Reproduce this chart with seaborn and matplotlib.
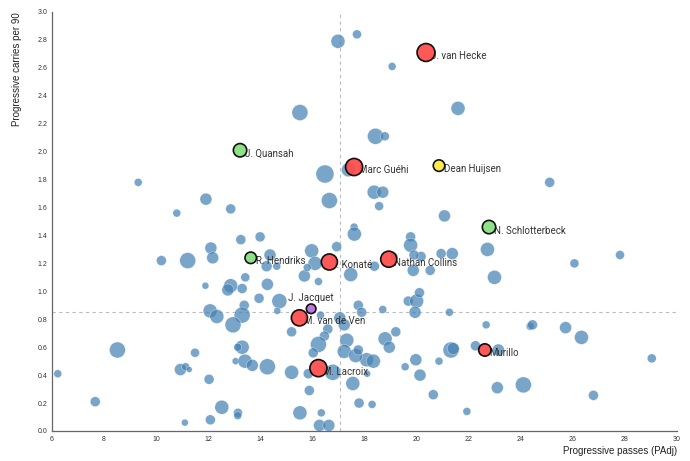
import pandas as pd
import seaborn as sns
import matplotlib.pyplot as plt

# all centre backs - progressive passes (PAdj) vs progressive carries per 90, bubble = minutes
pass_x = [16.98, 17.71, 19.06, 15.52, 21.59, 18.42, 18.78, 17.38, 16.48, 18.37,
          18.70, 16.65, 18.56, 11.91, 12.86, 21.07, 17.60, 17.61, 13.25, 13.99,
          12.10, 15.97, 16.93, 19.77, 19.77, 9.31, 10.79, 12.17, 10.20, 11.21,
          14.37, 14.24, 14.63, 13.42, 11.89, 12.86, 12.75, 13.30, 14.27, 13.95,
          14.73, 13.38, 12.07, 12.33, 13.30, 14.65, 12.95, 8.51, 11.49, 13.30,
          13.13, 13.05, 13.41, 13.69, 14.27, 10.93, 11.13, 11.27, 6.22, 12.03,
          7.66, 12.52, 13.14, 13.13, 12.08, 11.10, 16.10, 17.47, 18.38, 19.87,
          20.52, 20.94, 21.37, 20.17, 15.69, 16.23, 17.76, 17.89, 18.70, 19.68,
          20.00, 20.11, 19.94, 21.26, 15.20, 16.31, 16.59, 16.46, 17.05, 17.32,
          16.23, 16.03, 15.20, 15.84, 17.55, 18.08, 18.34, 18.79, 18.95, 19.20,
          19.56, 19.97, 20.13, 21.32, 21.41, 20.86, 17.22, 17.22, 17.66, 18.10,
          17.76, 16.78, 15.88, 15.52, 16.34, 16.27, 16.63, 17.79, 18.29, 20.64,
          21.93, 22.26, 23.14, 23.10, 24.10, 22.72, 22.99, 26.06, 27.81, 22.67,
          24.36, 24.45, 25.72, 26.33, 29.03, 26.79, 25.11, 19.13, 19.90, 15.80]
carry_y = [2.79, 2.84, 2.61, 2.28, 2.31, 2.11, 2.11, 1.87, 1.84, 1.71,
           1.71, 1.65, 1.61, 1.66, 1.59, 1.54, 1.46, 1.41, 1.37, 1.39,
           1.31, 1.29, 1.32, 1.39, 1.33, 1.78, 1.56, 1.24, 1.22, 1.22,
           1.26, 1.18, 1.18, 1.10, 1.04, 1.04, 1.01, 1.02, 1.05, 0.95,
           0.93, 0.90, 0.86, 0.82, 0.83, 0.86, 0.76, 0.58, 0.56, 0.60,
           0.60, 0.50, 0.50, 0.47, 0.46, 0.44, 0.46, 0.44, 0.41, 0.37,
           0.21, 0.17, 0.13, 0.11, 0.08, 0.06, 1.20, 1.12, 1.18, 1.15,
           1.15, 1.27, 1.27, 1.25, 1.11, 1.07, 0.90, 0.85, 0.87, 0.93,
           0.93, 0.99, 0.85, 0.85, 0.71, 0.83, 0.73, 0.68, 0.81, 0.65,
           0.62, 0.56, 0.42, 0.41, 0.34, 0.51, 0.50, 0.66, 0.60, 0.71,
           0.46, 0.51, 0.40, 0.58, 0.59, 0.50, 0.76, 0.57, 0.54, 0.41,
           0.58, 0.42, 0.29, 0.13, 0.13, 0.04, 0.04, 0.20, 0.19, 0.26,
           0.14, 0.61, 0.58, 0.31, 0.33, 1.30, 1.10, 1.20, 1.26, 0.76,
           0.75, 0.76, 0.74, 0.67, 0.52, 0.255, 1.78, 1.25, 1.26, 1.17]
minutes = [1470, 610, 480, 1920, 1470, 1920, 610, 1470, 2430, 1470,
           1080, 1920, 610, 1080, 750, 1080, 480, 1470, 750, 750,
           1080, 1470, 750, 750, 1470, 480, 480, 1080, 750, 1920,
           1080, 900, 480, 610, 370, 1470, 1080, 750, 1080, 750,
           1690, 750, 1470, 1470, 1920, 370, 1920, 1920, 610, 1470,
           480, 370, 1470, 1080, 1920, 1080, 480, 270, 480, 750,
           750, 1470, 610, 480, 750, 370, 1470, 1470, 750, 1080,
           750, 750, 1080, 750, 1080, 480, 750, 750, 480, 750,
           1470, 750, 1080, 480, 750, 480, 750, 750, 1080, 1470,
           1920, 750, 1470, 750, 1470, 1470, 1470, 1470, 1080, 750,
           480, 1080, 1080, 1920, 1080, 480, 1080, 1470, 1470, 370,
           750, 1920, 750, 1470, 480, 1080, 1080, 750, 480, 750,
           480, 750, 1080, 1080, 1920, 1470, 1470, 610, 610, 480,
           480, 750, 1080, 1470, 610, 750, 750, 480, 750, 480]

# highlighted players
hl_names = ['J. van Hecke', 'Marc Guéhi', 'I. Konaté', 'Nathan Collins', 'M. van de Ven',
            'M. Lacroix', 'Murillo', 'J. Quansah', 'R. Hendriks', 'N. Schlotterbeck',
            'Dean Huijsen', 'J. Jacquet']
hl_x = [20.36, 17.60, 16.65, 18.93, 15.50, 16.23, 22.62, 13.22, 13.63, 22.78, 20.86, 15.95]
hl_y = [2.71, 1.89, 1.21, 1.23, 0.81, 0.45, 0.58, 2.01, 1.24, 1.46, 1.90, 0.875]
hl_minutes = [2400, 2200, 1950, 1950, 1950, 2200, 1150, 1350, 1000, 1350, 1000, 700]
hl_group = ['red', 'red', 'red', 'red', 'red', 'red', 'red',
            'green', 'green', 'green', 'yellow', 'purple']

# averages (dashed lines)
avg_x = 17.07
avg_y = 0.852

df = pd.DataFrame({'passes': pass_x, 'carries': carry_y, 'minutes': minutes})
hl = pd.DataFrame({'name': hl_names, 'passes': hl_x, 'carries': hl_y,
                   'minutes': hl_minutes, 'group': hl_group})

sns.set_style('white')
fig = plt.figure(figsize=(6.9, 4.61), dpi=100)
ax = fig.add_axes([0.0754, 0.0651, 0.9058, 0.9089])

size_rng = (18, 168)
size_nrm = (270, 2430)

sns.scatterplot(data=df, x='passes', y='carries', size='minutes', sizes=size_rng,
                size_norm=size_nrm, color='#4682b4', alpha=0.72, edgecolor='white',
                linewidth=0.3, legend=False, ax=ax, zorder=1)

pal = {'red': '#ff4a4a', 'green': '#85df7f', 'yellow': '#ffeb3b', 'purple': '#b46fd8'}

# labels go under the highlighted dots
for i, row in hl.iterrows():
    if row['name'] == 'J. Jacquet':
        ax.annotate(row['name'], (row['passes'], row['carries']), xytext=(0, 8),
                    textcoords='offset points', ha='center', va='center',
                    fontsize=7, family='Roboto', color='#333333', zorder=1.5)
    else:
        ax.annotate(row['name'], (row['passes'], row['carries']), xytext=(3.5, -2.5),
                    textcoords='offset points', ha='left', va='center',
                    fontsize=7, family='Roboto', color='#333333', zorder=1.5)

sns.scatterplot(data=hl, x='passes', y='carries', size='minutes', sizes=size_rng,
                size_norm=size_nrm, hue='group', palette=pal, alpha=0.92,
                edgecolor='black', linewidth=1.2, legend=False, ax=ax, zorder=2)

ax.axvline(avg_x, color='#bbbbbb', linestyle=(0, (3, 3)), linewidth=0.8, zorder=0)
ax.axhline(avg_y, color='#bbbbbb', linestyle=(0, (3, 3)), linewidth=0.8, zorder=0)

ax.set_xlim(6, 30)
ax.set_ylim(0, 3.0)
ax.set_xticks(range(6, 31, 2))
ax.set_yticks([i / 5 for i in range(16)])
ax.set_yticklabels([f'{i / 5:.1f}' for i in range(16)])

ax.tick_params(axis='both', labelsize=5, colors='#555555', length=2, width=0.6, pad=1.5)
for lab in ax.get_xticklabels() + ax.get_yticklabels():
    lab.set_family('Liberation Sans')
    lab.set_color('#333333')

sns.despine(ax=ax)
for s in ['left', 'bottom']:
    ax.spines[s].set_color('#666666')
    ax.spines[s].set_linewidth(0.9)

ax.set_xlabel('Progressive passes (PAdj)', loc='right', fontsize=7, family='Liberation Sans', color='#222222')
ax.set_ylabel('Progressive carries per 90', loc='top', fontsize=7, family='Liberation Sans', color='#222222')
ax.xaxis.set_label_coords(1.0, -0.036)
ax.yaxis.set_label_coords(-0.048, 1.0)

fig.savefig('out.png', dpi=100)
